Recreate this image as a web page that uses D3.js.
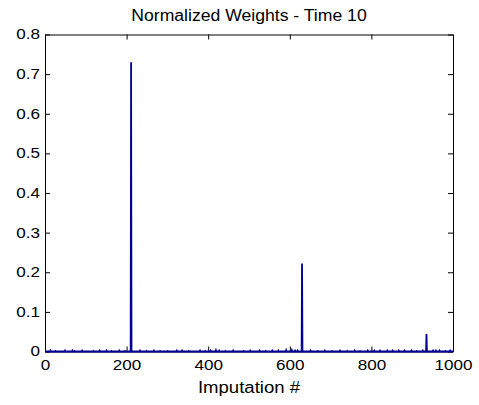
<!DOCTYPE html>
<html>
<head>
<meta charset="utf-8">
<script src="https://cdn.jsdelivr.net/npm/d3@7"></script>
<style>
  body { margin: 0; background: #fff; }
  svg { display: block; font-family: "Liberation Sans", Arial, sans-serif; }
</style>
</head>
<body>
<svg width="479" height="405"></svg>
<script>
// number of imputations (weights) at time step 10
const nImputations = 1000;
// imputations that carry a visible share of the weight
const spikeIdx = [210, 629, 934];
const spikeVal = [0.730, 0.222, 0.044];
// small weights that show as bumps along the baseline
const smallIdx = [12, 25, 48, 66, 71, 90, 118, 133, 150, 162, 181, 195, 232, 248, 266, 281, 300, 322, 335, 351, 379, 392, 405, 418, 426, 441, 460, 486, 502, 525, 540, 556, 571, 590, 604, 612, 618, 650, 668, 685, 702, 722, 740, 758, 771, 790, 806, 820, 838, 851, 866, 880, 897, 910, 925, 950, 957, 966, 980, 992];
const smallVal = [0.002, 0.001, 0.002, 0.002, 0.001, 0.002, 0.001, 0.002, 0.002, 0.001, 0.002, 0.001, 0.002, 0.001, 0.002, 0.001, 0.001, 0.002, 0.002, 0.001, 0.002, 0.001, 0.002, 0.003, 0.002, 0.001, 0.002, 0.001, 0.002, 0.002, 0.001, 0.002, 0.002, 0.003, 0.003, 0.002, 0.002, 0.002, 0.001, 0.002, 0.001, 0.002, 0.001, 0.002, 0.001, 0.002, 0.002, 0.002, 0.002, 0.002, 0.002, 0.002, 0.002, 0.001, 0.002, 0.002, 0.002, 0.002, 0.001, 0.002];
const xTicks = [0, 200, 400, 600, 800, 1000];
const yTicks = [0, 0.1, 0.2, 0.3, 0.4, 0.5, 0.6, 0.7, 0.8];

// build the weight vector: zero everywhere except the listed entries
const weights = new Array(nImputations).fill(0);
smallIdx.forEach((k, i) => { weights[k] = smallVal[i]; });
spikeIdx.forEach((k, i) => { weights[k] = spikeVal[i]; });
const data = weights.map((w, i) => ({ i: i + 1, w }));

const svg = d3.select('svg');
const pLeft = 45, pRight = 453, pTop = 34.5, pBottom = 351.5;

const x = d3.scaleLinear().domain([0, 1000]).range([pLeft, pRight]);
const y = d3.scaleLinear().domain([0, 0.8]).range([pBottom, pTop]);

// stretch text sideways a bit, the reference font runs wide
function widen(sel, factor) {
  sel.each(function () {
    const w = this.getComputedTextLength();
    d3.select(this).attr('textLength', w * factor).attr('lengthAdjust', 'spacingAndGlyphs');
  });
}

// axes box with inward ticks, matlab style
const tickLen = 5;
const gx = svg.append('g').attr('transform', `translate(0,${pBottom})`)
  .call(d3.axisBottom(x).tickValues(xTicks).tickSizeInner(-tickLen).tickSizeOuter(0).tickPadding(9).tickFormat(d3.format('d')));
const gxTop = svg.append('g').attr('transform', `translate(0,${pTop})`)
  .call(d3.axisTop(x).tickValues(xTicks).tickSizeInner(-tickLen).tickSizeOuter(0).tickFormat(''));
const gy = svg.append('g').attr('transform', `translate(${pLeft},0)`)
  .call(d3.axisLeft(y).tickValues(yTicks).tickSizeInner(-tickLen).tickSizeOuter(0).tickPadding(5).tickFormat(d => d === 0 ? '0' : d3.format('.1f')(d)));
const gyRight = svg.append('g').attr('transform', `translate(${pRight},0)`)
  .call(d3.axisRight(y).tickValues(yTicks).tickSizeInner(-tickLen).tickSizeOuter(0).tickFormat(''));

[gx, gxTop, gy, gyRight].forEach(g => {
  g.select('.domain').attr('stroke', '#000');
  g.selectAll('.tick line').attr('stroke', '#000');
  g.selectAll('text').attr('fill', '#000').attr('font-size', 14)
    .attr('font-family', '"Liberation Sans", Arial, sans-serif');
});
gx.selectAll('text').attr('dy', '0.71em');
widen(gx.selectAll('text'), 1.22);
widen(gy.selectAll('text'), 1.22);

const line = d3.line()
  .x(d => x(d.i))
  .y(d => y(d.w));

svg.append('path')
  .datum(data)
  .attr('d', line)
  .attr('fill', 'none')
  .attr('stroke', '#000094')
  .attr('stroke-width', 1.8);

const title = svg.append('text')
  .attr('x', (pLeft + pRight) / 2)
  .attr('y', 21)
  .attr('text-anchor', 'middle')
  .attr('font-size', 16)
  .text('Normalized Weights - Time 10');
widen(title, 1.1);

const xlab = svg.append('text')
  .attr('x', (pLeft + pRight) / 2)
  .attr('y', 393)
  .attr('text-anchor', 'middle')
  .attr('font-size', 16)
  .text('Imputation #');
widen(xlab, 1.16);
</script>
</body>
</html>
